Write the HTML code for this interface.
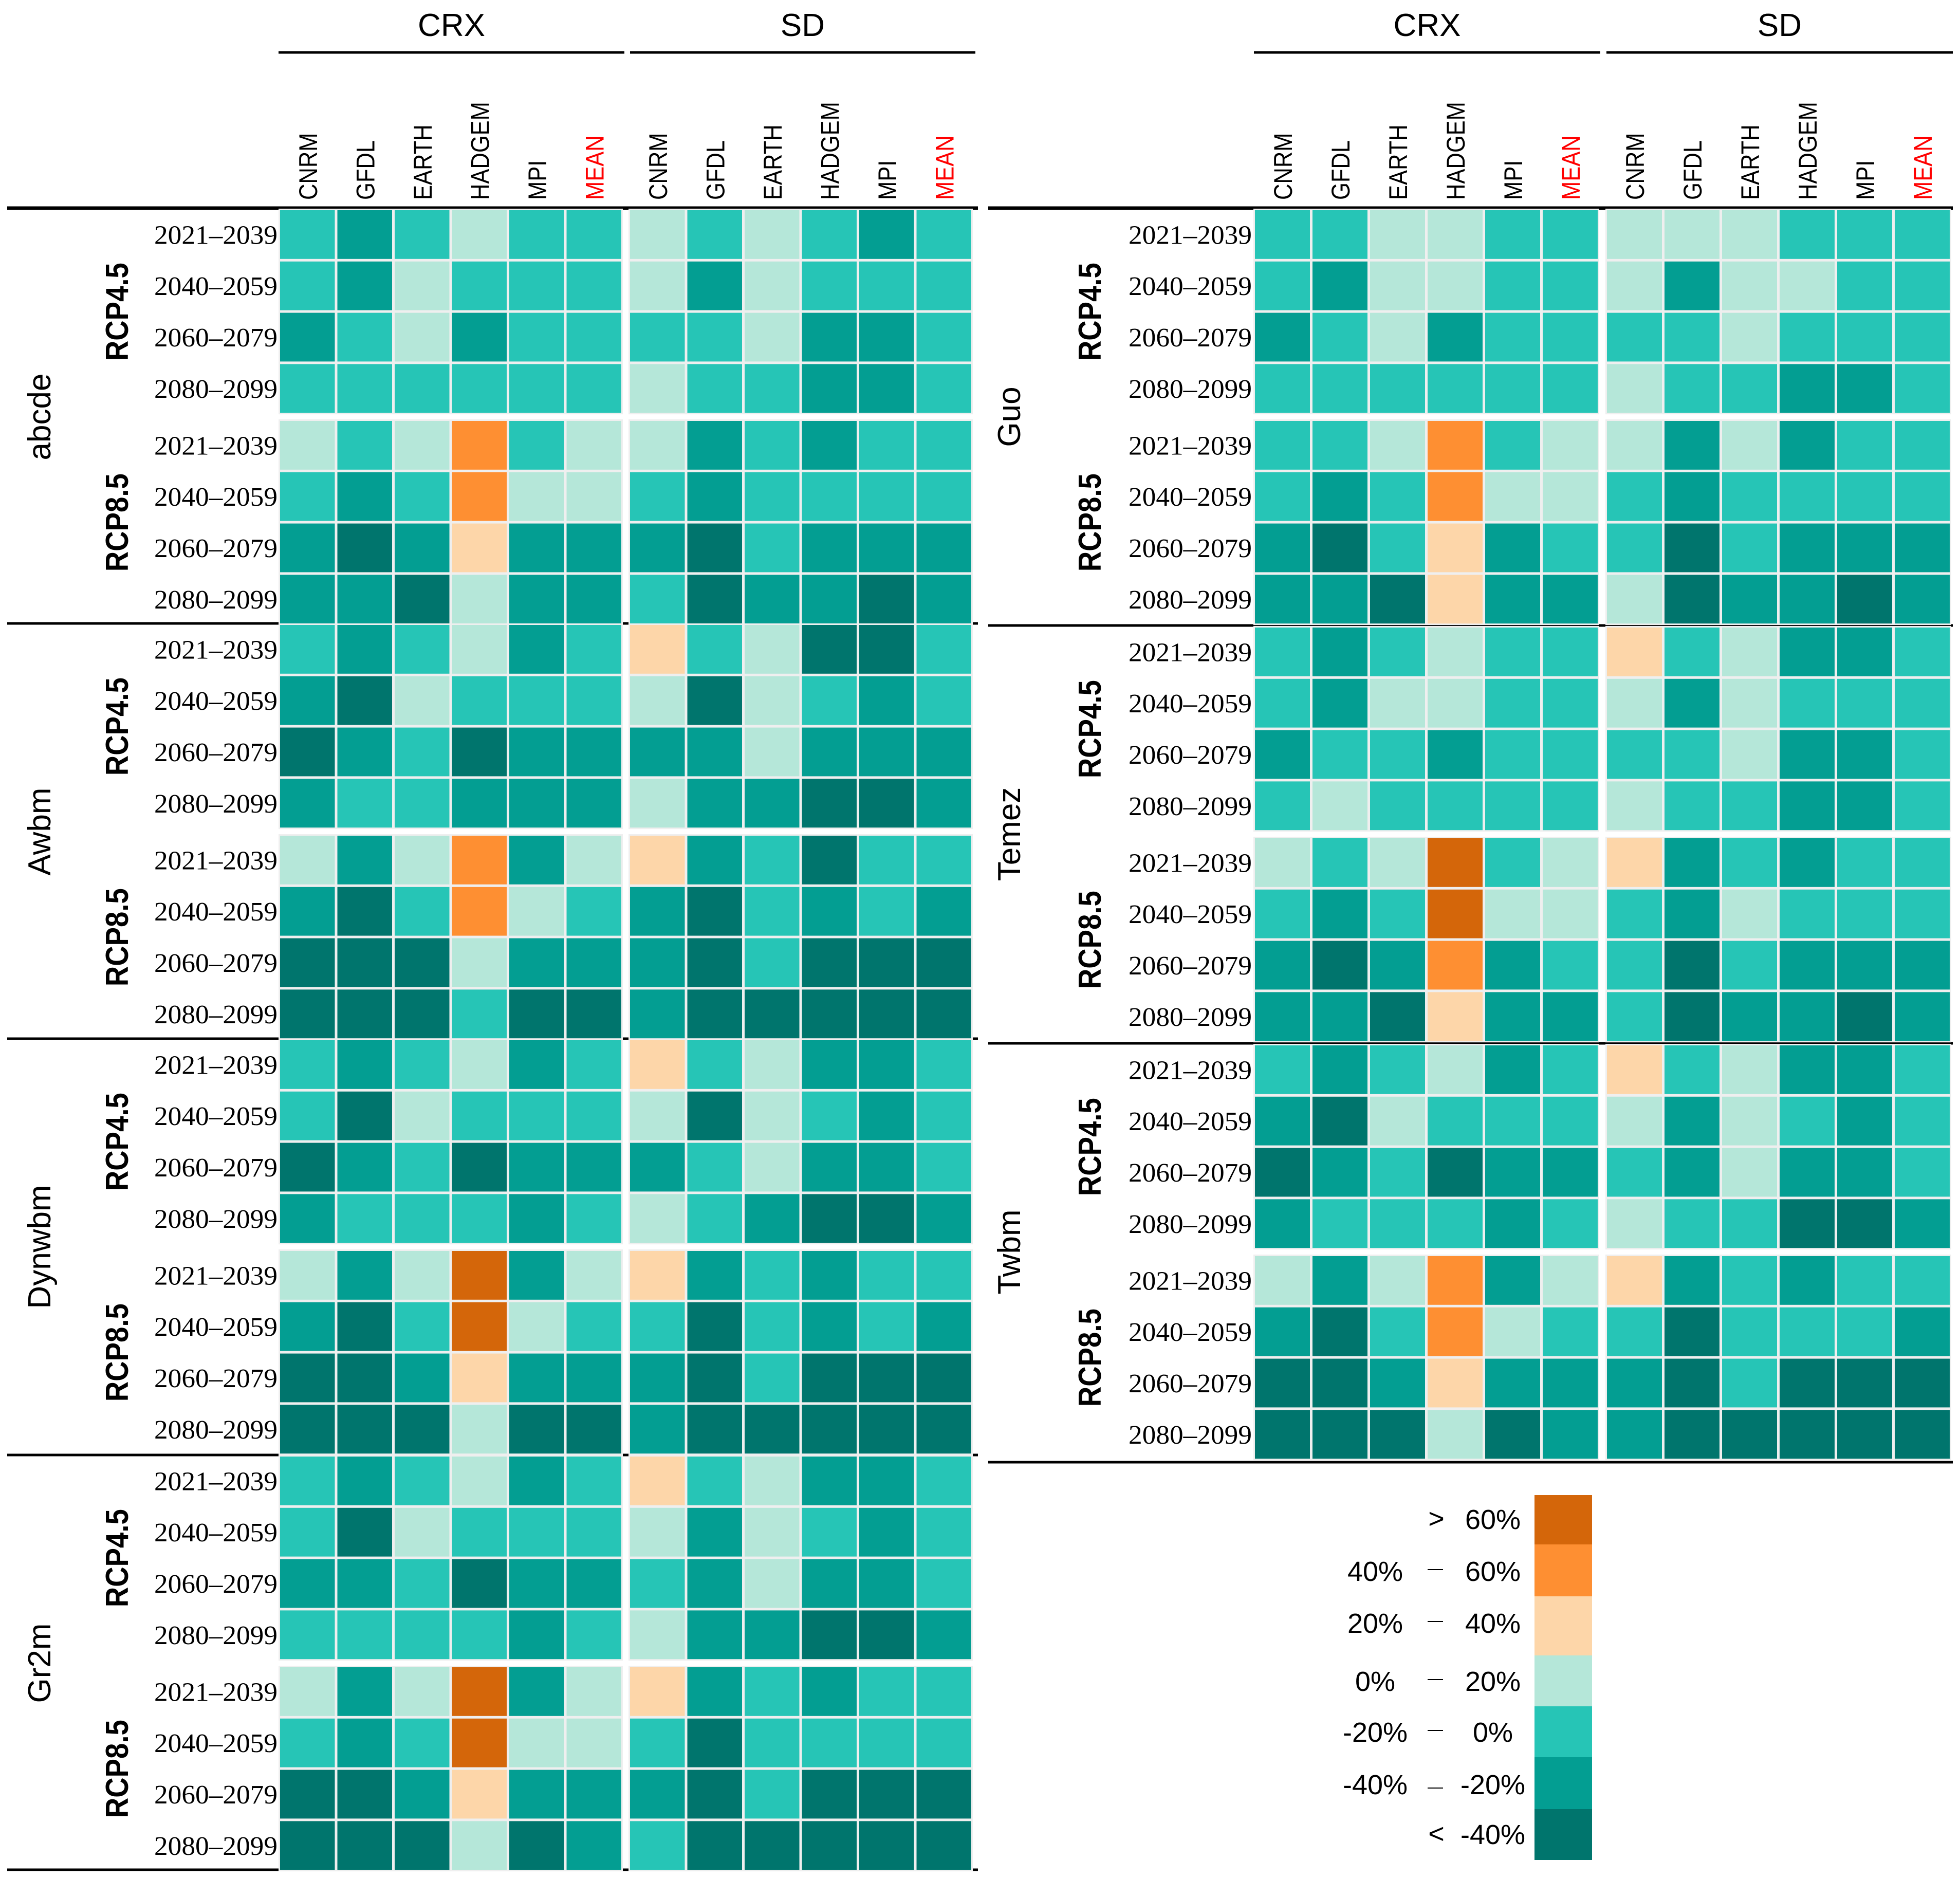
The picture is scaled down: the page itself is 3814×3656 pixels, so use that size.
<!DOCTYPE html>
<html><head><meta charset="utf-8"><style>html,body{margin:0;padding:0;background:#fff}svg{display:block}</style></head>
<body>
<svg id="chart" xmlns="http://www.w3.org/2000/svg" width="3814" height="3656" viewBox="0 0 3814 3656"></svg>
<script>
const models = ["abcde","Awbm","Dynwbm","Gr2m","Guo","Temez","Twbm"];
const gcms = ["CNRM","GFDL","EARTH","HADGEM","MPI","MEAN"];
const methods = ["CRX","SD"];
const scenarios = ["RCP4.5","RCP8.5"];
const periods = ["2021–2039","2040–2059","2060–2079","2080–2099"];
const binEdges = [-40,-20,0,20,40,60];
const binLabelsLeft = ["","40%","20%","0%","-20%","-40%",""];
const binLabelsRight = ["60%","60%","40%","20%","0%","-20%","-40%"];
const binLabelsSep = [">","–","–","–","–","–","<"];
const abcde = [
[-10,-30,-10,10,-10,-10,10,-10,10,-10,-30,-10],
[-10,-30,10,-10,-10,-10,10,-30,10,-10,-10,-10],
[-30,-10,10,-30,-10,-10,-10,-10,10,-30,-30,-10],
[-10,-10,-10,-10,-10,-10,10,-10,-10,-30,-30,-10],
[10,-10,10,50,-10,10,10,-30,-10,-30,-10,-10],
[-10,-30,-10,50,10,10,-10,-30,-10,-10,-10,-10],
[-30,-50,-30,30,-30,-30,-30,-50,-10,-30,-30,-30],
[-30,-30,-50,10,-30,-30,-10,-50,-30,-30,-50,-30]];
const awbm = [
[-10,-30,-10,10,-30,-10,30,-10,10,-50,-50,-10],
[-30,-50,10,-10,-10,-10,10,-50,10,-10,-30,-10],
[-50,-30,-10,-50,-30,-30,-30,-30,10,-30,-30,-30],
[-30,-10,-10,-30,-30,-30,10,-30,-30,-50,-50,-30],
[10,-30,10,50,-30,10,30,-30,-10,-50,-10,-10],
[-30,-50,-10,50,10,-10,-30,-50,-10,-30,-10,-30],
[-50,-50,-50,10,-30,-30,-30,-50,-10,-50,-50,-50],
[-50,-50,-50,-10,-50,-50,-30,-50,-50,-50,-50,-50]];
const dynwbm = [
[-10,-30,-10,10,-30,-10,30,-10,10,-30,-30,-10],
[-10,-50,10,-10,-10,-10,10,-50,10,-10,-30,-10],
[-50,-30,-10,-50,-30,-30,-30,-10,10,-30,-30,-10],
[-30,-10,-10,-10,-30,-10,10,-10,-30,-50,-50,-30],
[10,-30,10,70,-30,10,30,-30,-10,-30,-10,-10],
[-30,-50,-10,70,10,-10,-10,-50,-10,-30,-10,-30],
[-50,-50,-30,30,-30,-30,-30,-50,-10,-50,-50,-50],
[-50,-50,-50,10,-50,-50,-30,-50,-50,-50,-50,-50]];
const gr2m = [
[-10,-30,-10,10,-30,-10,30,-10,10,-30,-30,-10],
[-10,-50,10,-10,-10,-10,10,-30,10,-10,-30,-10],
[-30,-30,-10,-50,-30,-30,-10,-30,10,-30,-30,-10],
[-10,-10,-10,-10,-30,-10,10,-30,-30,-50,-50,-30],
[10,-30,10,70,-30,10,30,-30,-10,-30,-10,-10],
[-10,-30,-10,70,10,10,-10,-50,-10,-10,-10,-10],
[-50,-50,-30,30,-30,-30,-30,-50,-10,-50,-50,-50],
[-50,-50,-50,10,-50,-30,-10,-50,-50,-50,-50,-50]];
const guo = [
[-10,-10,10,10,-10,-10,10,10,10,-10,-10,-10],
[-10,-30,10,10,-10,-10,10,-30,10,10,-10,-10],
[-30,-10,10,-30,-10,-10,-10,-10,10,-10,-10,-10],
[-10,-10,-10,-10,-10,-10,10,-10,-10,-30,-30,-10],
[-10,-10,10,50,-10,10,10,-30,10,-30,-10,-10],
[-10,-30,-10,50,10,10,-10,-30,-10,-10,-10,-10],
[-30,-50,-10,30,-30,-10,-10,-50,-10,-30,-30,-30],
[-30,-30,-50,30,-30,-30,10,-50,-30,-30,-50,-30]];
const temez = [
[-10,-30,-10,10,-10,-10,30,-10,10,-30,-30,-10],
[-10,-30,10,10,-10,-10,10,-30,10,-10,-10,-10],
[-30,-10,-10,-30,-10,-10,-10,-10,10,-30,-30,-10],
[-10,10,-10,-10,-10,-10,10,-10,-10,-30,-30,-10],
[10,-10,10,70,-10,10,30,-30,-10,-30,-10,-10],
[-10,-30,-10,70,10,10,-10,-30,10,-10,-10,-10],
[-30,-50,-30,50,-30,-10,-10,-50,-10,-30,-30,-30],
[-30,-30,-50,30,-30,-30,-10,-50,-30,-30,-50,-30]];
const twbm = [
[-10,-30,-10,10,-30,-10,30,-10,10,-30,-30,-10],
[-30,-50,10,-10,-10,-10,10,-30,10,-10,-30,-10],
[-50,-30,-10,-50,-30,-30,-10,-30,10,-30,-30,-10],
[-30,-10,-10,-10,-30,-10,10,-10,-10,-50,-50,-30],
[10,-30,10,50,-30,10,30,-30,-10,-30,-10,-10],
[-30,-50,-10,50,10,-10,-10,-50,-10,-10,-10,-30],
[-50,-50,-30,30,-30,-30,-30,-50,-10,-50,-50,-50],
[-50,-50,-50,10,-50,-30,-30,-50,-50,-50,-50,-50]];
const modelValues = [abcde, awbm, dynwbm, gr2m, guo, temez, twbm];

const palette = ["#00756d","#039e92","#26c5b6","#b5e7d9","#fdd6a9","#fe8f32","#d4660a"];
function colorOf(v){ let k=0; while(k<binEdges.length && v>binEdges[k]) k++; return palette[k]; }

const NS="http://www.w3.org/2000/svg";
const svg=document.getElementById('chart');
function mk(tag, attrs, parent){ const e=document.createElementNS(NS,tag); for(const k in attrs) e.setAttribute(k,attrs[k]); (parent||svg).appendChild(e); return e; }
function txt(s, attrs, parent){ const e=mk('text',attrs,parent); e.textContent=s; return e; }

const sides = [
 {crx:545, sd:1226, colW:111.5, lineX0:14, lineX1:1903, rowLabelX:540, rcpX:249, nameX:98, tops:[409,1216,2024,2834], lines:[1213,2021,2831,3638], hdr:{crx:[542,1215],sd:[1226,1898]}},
 {crx:2442, sd:3127, colW:112, lineX0:1923, lineX1:3800, rowLabelX:2436, rcpX:2142, nameX:1985, tops:[409,1221,2034], lines:[1217,2030,2845], hdr:{crx:[2440,3114],sd:[3126,3800]}}
];
const rowH=99.8, blockOff=410, gap=5;
function colX(side, c){ return (c<6 ? side.crx + c*side.colW : side.sd + (c-6)*side.colW); }
function rowY(top, r){ return top + (r<4 ? r*rowH : blockOff + (r-4)*rowH); }

sides.forEach((side, si)=>{
  methods.forEach((m,mi)=>{
    const xr = mi===0 ? side.hdr.crx : side.hdr.sd;
    const t=txt(m,{x:(xr[0]+xr[1])/2,y:70,'text-anchor':'middle','font-family':'Liberation Sans, sans-serif','font-size':62,fill:'#000'});
    
    
    const l=mk('line',{x1:xr[0],x2:xr[1],y1:102,y2:102,stroke:'#000','stroke-width':5});
    
    
  });
  for(let c=0;c<12;c++){
    const g=gcms[c%6];
    const cx=colX(side,c)+side.colW/2+16;
    const t=txt(g,{transform:`translate(${cx},389) rotate(-90) scale(0.87,1)`,'font-family':'Liberation Sans, sans-serif','font-size':50,fill:g==='MEAN'?'#ff0000':'#000'});
    
    
  }
  const tl=mk('line',{x1:side.lineX0,x2:side.lineX1,y1:405,y2:405,stroke:'#000','stroke-width':7});
  
  
  side.lines.forEach(y=>{
    const l=mk('line',{x1:side.lineX0,x2:side.lineX1,y1:y,y2:y,stroke:'#000','stroke-width':5});
    
    
  });
  side.tops.forEach((top, pi)=>{
    const mIndex = si===0 ? pi : 4+pi;
    const vals = modelValues[mIndex];
    const grp=mk('g',{});
    
    
    for(let b=0;b<2;b++){
      [side.crx, side.sd].forEach(x0=>{
        mk('rect',{x:x0-3,y:top+b*blockOff-3,width:6*side.colW+1,height:4*rowH+1,fill:'#efefef'},grp);
      });
    }
    for(let r=0;r<8;r++){
      for(let c=0;c<12;c++){
        const rc=mk('rect',{x:colX(side,c),y:rowY(top,r),width:side.colW-gap,height:rowH-gap,fill:colorOf(vals[r][c])},grp);
        
        
      }
      const lb=txt(periods[r%4],{x:side.rowLabelX,y:rowY(top,r)+(rowH-gap)/2+18,'text-anchor':'end','font-family':'Liberation Serif, serif','font-size':52,textLength:240,lengthAdjust:'spacingAndGlyphs',fill:'#000'},grp);
      
      
    }
    scenarios.forEach((s,b)=>{
      const cy=top+b*blockOff+2*rowH-2;
      const t=txt(s,{transform:`translate(${side.rcpX},${cy}) rotate(-90) scale(0.88,1)`,'text-anchor':'middle','font-family':'Liberation Sans, sans-serif','font-weight':'bold','font-size':62,fill:'#000'},grp);
      
      
    });
    const nm=txt(models[mIndex],{transform:`translate(${side.nameX},${top+402}) rotate(-90)`,'text-anchor':'middle','font-family':'Liberation Sans, sans-serif','font-size':62,fill:'#000'},grp);
    
    
  });
});

const legendTops=[2909,3005,3106,3221,3320,3419,3520,3619];
const legendBaselines=[2975,3076,3177,3290,3389,3491,3588];
const lg=mk('g',{});


for(let i=0;i<7;i++){
  const k=6-i;
  const r=mk('rect',{x:2986,y:legendTops[i],width:112,height:legendTops[i+1]-legendTops[i],fill:palette[k]},lg);
  
  
  const by=legendBaselines[i];
  const f={'font-family':'Liberation Sans, sans-serif','font-size':54,fill:'#000','text-anchor':'middle'};
  if(binLabelsLeft[i]){ const t=txt(binLabelsLeft[i],Object.assign({x:2676,y:by},f),lg);   }
  if(binLabelsSep[i]==='–'){
    const l=mk('line',{x1:2778,x2:2808,y1:by-22+(i===5?10:0),y2:by-22+(i===5?10:0),stroke:'#000','stroke-width':2},lg);
    
    
  } else {
    const t=txt(binLabelsSep[i],Object.assign({x:2795,y:by-2},f),lg);
    
    
  }
  const t2=txt(binLabelsRight[i],Object.assign({x:2905,y:by},f),lg);
  
  
}
</script>
</body></html>
